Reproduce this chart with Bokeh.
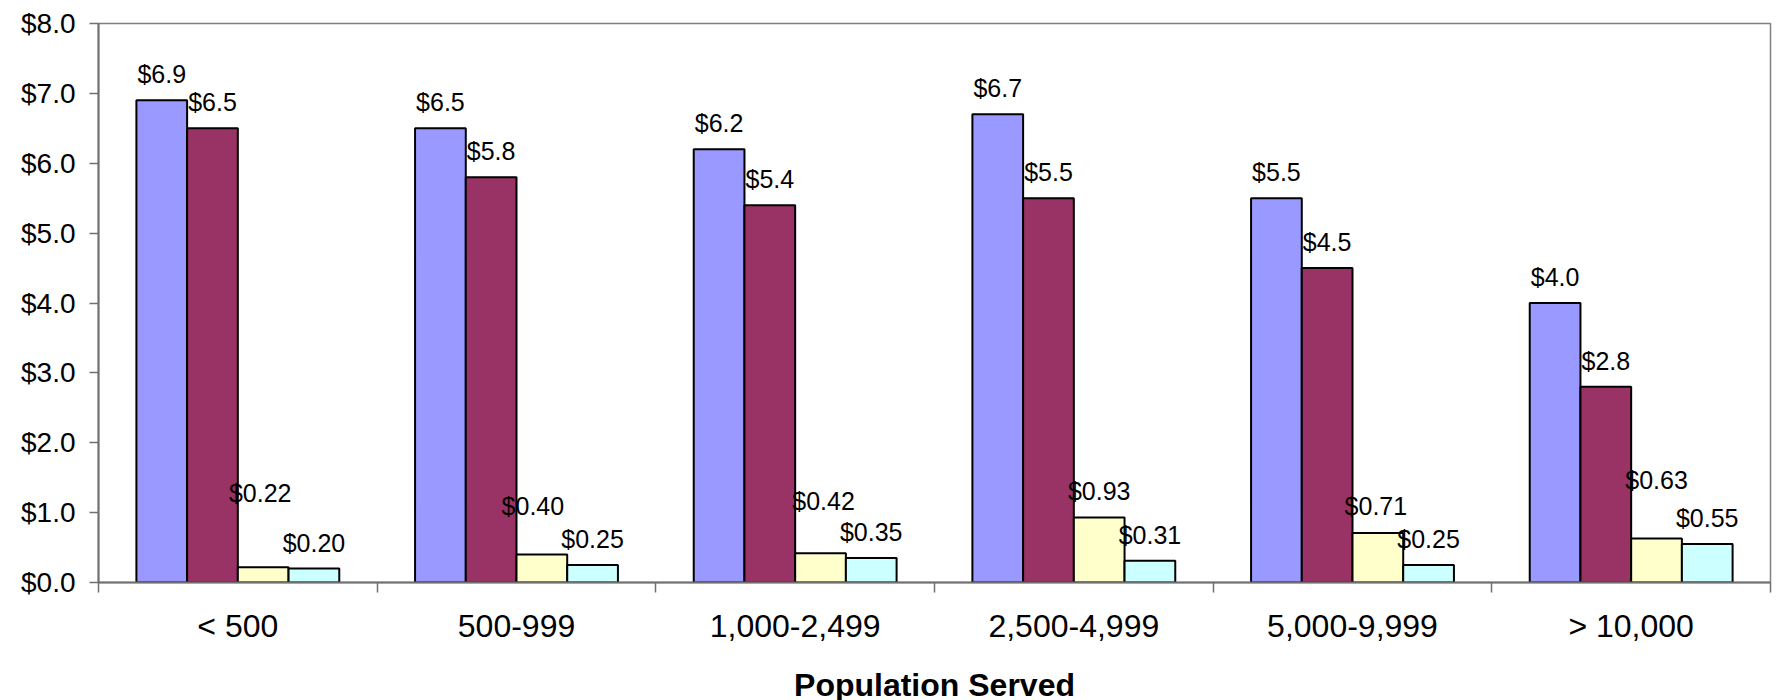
from bokeh.plotting import figure
from bokeh.models import (Range1d, LinearAxis, FixedTicker,
                          NumeralTickFormatter, ColumnDataSource)
from bokeh.core.properties import value
from bokeh.embed import file_html
from bokeh.resources import INLINE

# ---- data ----
categories = ["< 500", "500-999", "1,000-2,499", "2,500-4,999", "5,000-9,999", "> 10,000"]
series_a = [6.9, 6.5, 6.2, 6.7, 5.5, 4.0]
series_b = [6.5, 5.8, 5.4, 5.5, 4.5, 2.8]
series_c = [0.22, 0.40, 0.42, 0.93, 0.71, 0.63]
series_d = [0.20, 0.25, 0.35, 0.31, 0.25, 0.55]
y_ticks = [0, 1, 2, 3, 4, 5, 6, 7, 8]

# ---- label placement (pixel nudges, like Excel's collision handling) ----
dx_c = [-3, -9, 3, 0, -2, 0]
dy_c = [-74, -49, -52, -27, -27, -58]
dy_norm = [-26] * 6
dx_norm = [0] * 6

FONT = "Liberation Sans"
colors = ["#9999FF", "#993366", "#FFFFCC", "#CCFFFF"]
bar_w = 0.182
offsets = [-1.5 * bar_w, -0.5 * bar_w, 0.5 * bar_w, 1.5 * bar_w]

n = len(categories)
centers = [i + 0.5 for i in range(n)]
edges = list(range(n + 1))

p = figure(x_range=Range1d(0, n), y_range=Range1d(0, 8),
           frame_width=1672, frame_height=559,
           min_border_left=98, min_border_top=23, min_border_right=2, min_border_bottom=110,
           x_axis_location=None, toolbar_location=None, output_backend="svg",
           background_fill_color="white", border_fill_color="white")
p.grid.visible = False
p.outline_line_color = "#808080"
p.outline_line_width = 1.5

series = [
    (series_a, "{:.1f}", dx_norm, dy_norm),
    (series_b, "{:.1f}", dx_norm, dy_norm),
    (series_c, "{:.2f}", dx_c, dy_c),
    (series_d, "{:.2f}", dx_norm, dy_norm),
]
for (vals, fmt, dx, dy), col, off in zip(series, colors, offsets):
    src = ColumnDataSource(dict(x=[c + off for c in centers], top=vals,
                                label=["$" + fmt.format(v) for v in vals],
                                dx=dx, dy=dy))
    p.vbar(x="x", top="top", width=bar_w, source=src,
           fill_color=col, line_color="black", line_width=2)
    p.text(x="x", y="top", text="label", source=src,
           x_offset="dx", y_offset="dy",
           text_font=value(FONT), text_font_size="25px", text_align="center",
           text_baseline="alphabetic", text_color="black")

# y axis
ya = p.yaxis[0]
ya.ticker = FixedTicker(ticks=y_ticks)
ya.formatter = NumeralTickFormatter(format="$0.0")
ya.major_tick_out = 9
ya.major_tick_in = 0
ya.minor_tick_out = 0
ya.minor_tick_in = 0
ya.major_label_standoff = 14
ya.major_label_text_font = FONT
ya.major_label_text_font_size = "28px"
ya.major_label_text_color = "black"
ya.axis_line_color = "#707070"
ya.axis_line_width = 2
ya.major_tick_line_color = "#707070"
ya.major_tick_line_width = 1.5

# x axis: labels at category centres, tick marks at category boundaries
xa = LinearAxis(ticker=FixedTicker(ticks=centers, minor_ticks=edges),
                major_label_overrides={c: lab for c, lab in zip(centers, categories)},
                major_tick_out=0, major_tick_in=0, major_tick_line_color=None,
                minor_tick_out=10, minor_tick_in=0,
                minor_tick_line_color="#707070", minor_tick_line_width=1.5,
                axis_line_color="#707070", axis_line_width=2,
                major_label_text_font=FONT, major_label_text_font_size="32px",
                major_label_text_color="black", major_label_standoff=15,
                axis_label="Population Served", axis_label_text_font=FONT,
                axis_label_text_font_style="bold", axis_label_text_font_size="32px",
                axis_label_text_color="black", axis_label_standoff=20)
p.add_layout(xa, "below")

open("out.html", "w").write(file_html(p, INLINE))
